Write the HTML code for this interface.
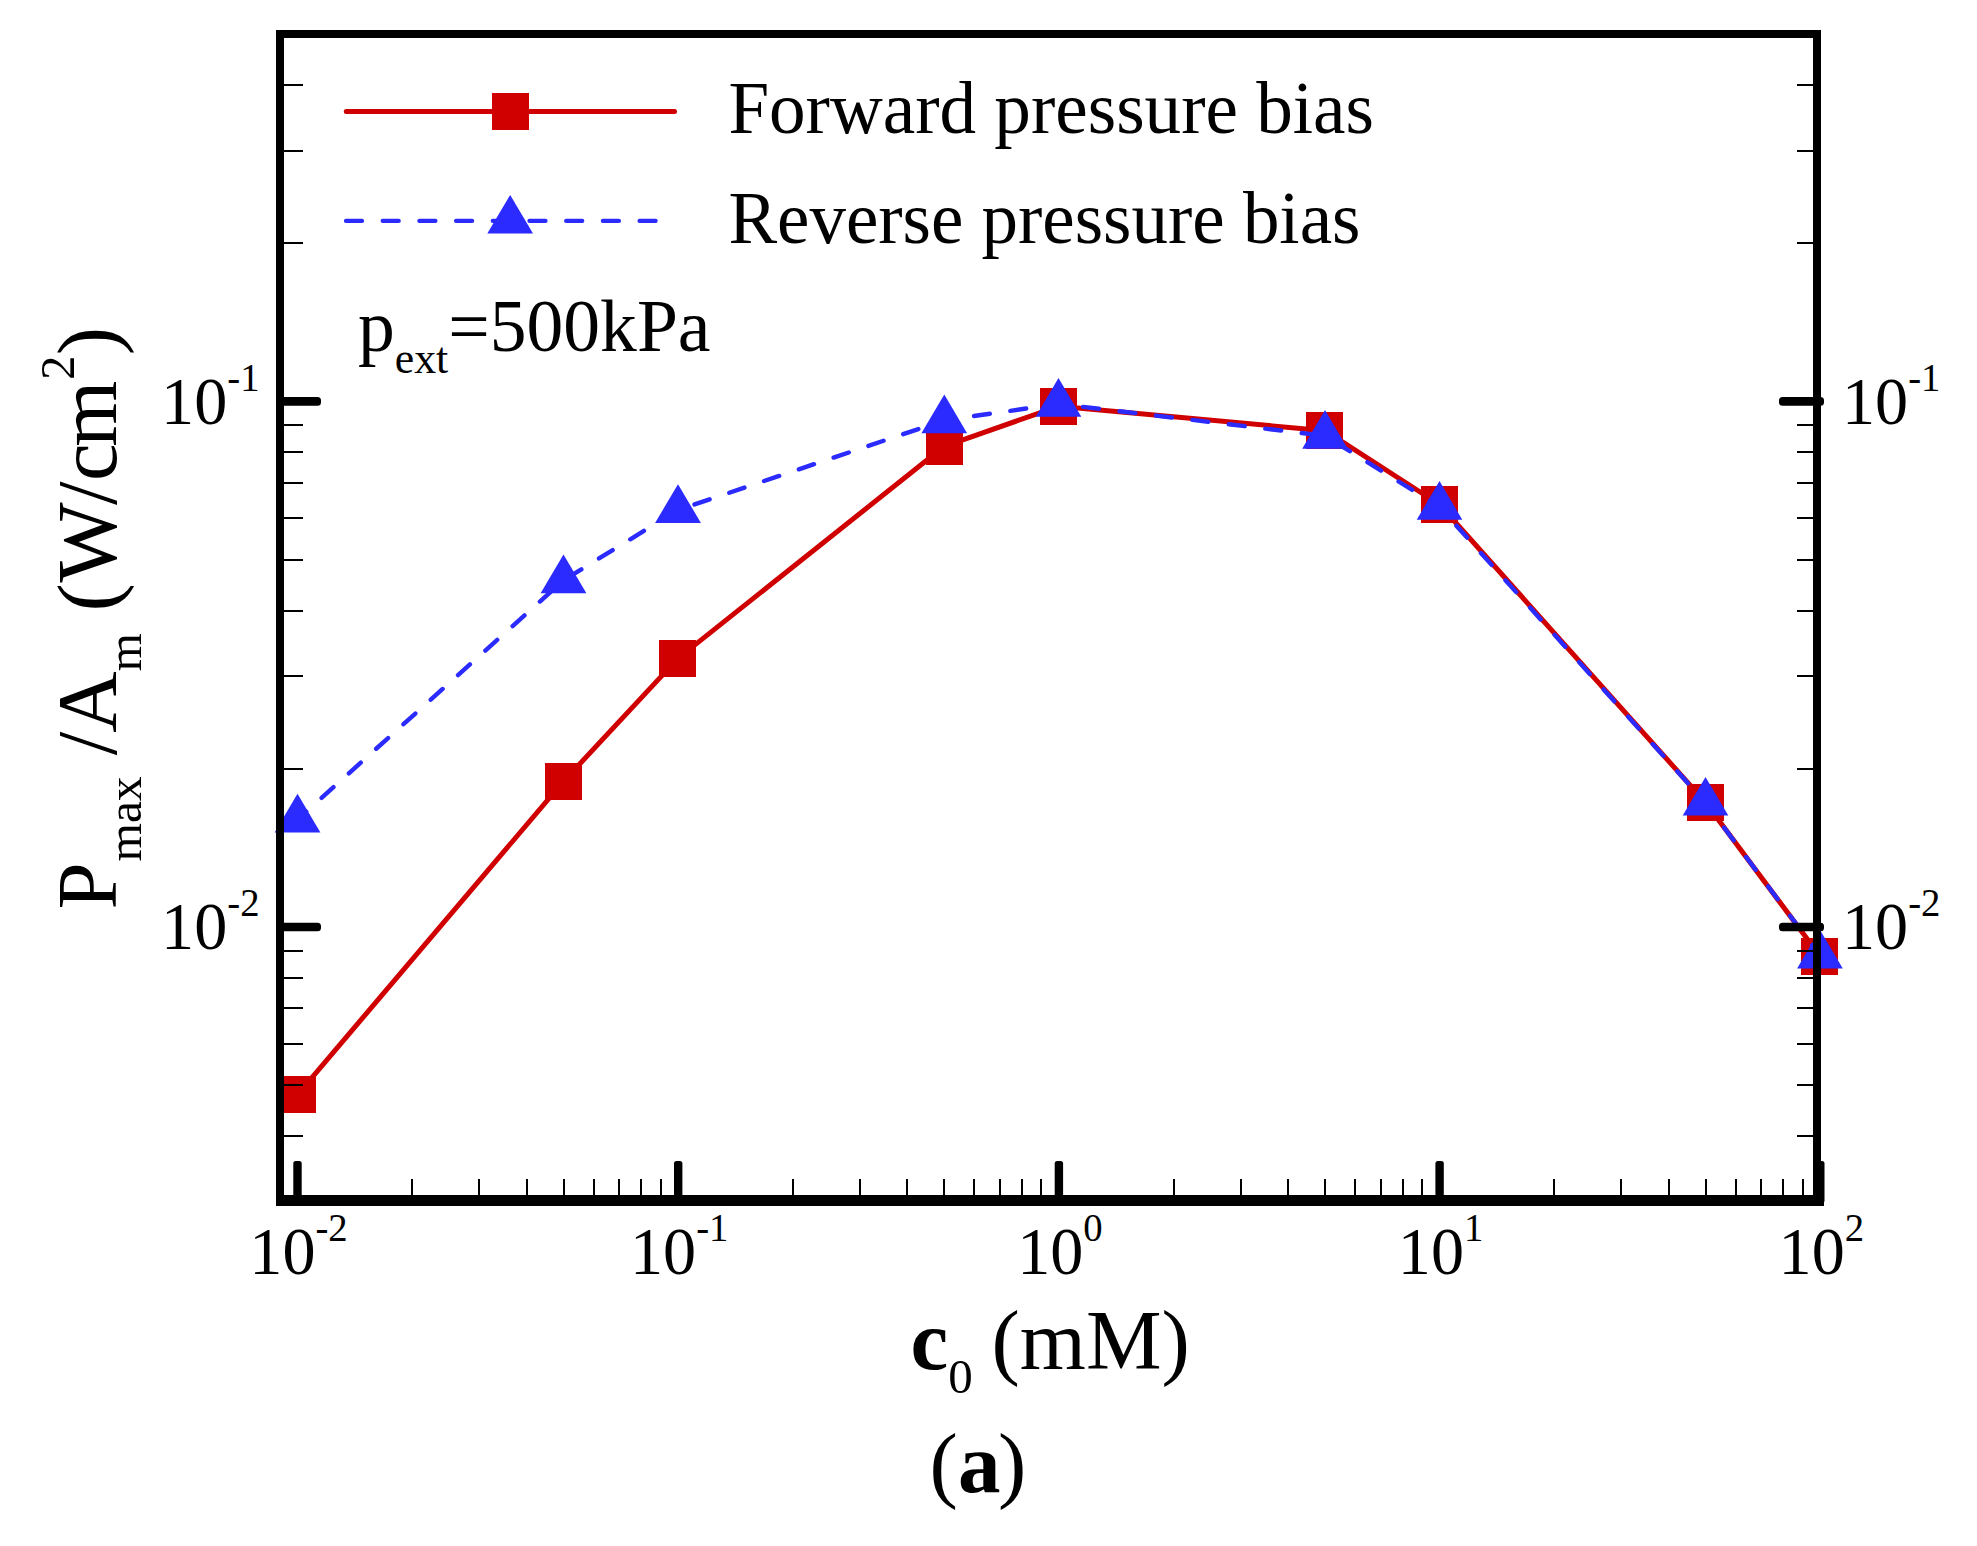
<!DOCTYPE html>
<html lang="en"><head><meta charset="utf-8"><title>Pmax/Am vs c0</title>
<style>
html,body{margin:0;padding:0;background:#fff;}
body{width:1977px;height:1546px;overflow:hidden;}
svg{display:block;}
text{font-family:"Liberation Serif","Times New Roman",Times,serif;fill:#000;}
.b{font-weight:bold;}
</style></head><body>
<svg width="1977" height="1546" viewBox="0 0 1977 1546">
<rect x="0" y="0" width="1977" height="1546" fill="#fff"/>
<g id="series-forward">
<polyline fill="none" stroke="#d00000" stroke-width="5" stroke-linejoin="round" stroke-linecap="round" points="297.5,1094.6 563.5,781.4 678.0,658.4 944.3,446.3 1058.5,406.3 1325.0,430.7 1439.5,504.5 1705.5,802.4 1819.9,956.1"/>
<rect x="279" y="1076" width="37" height="37" fill="#d00000"/>
<rect x="545" y="763" width="37" height="37" fill="#d00000"/>
<rect x="659" y="640" width="37" height="37" fill="#d00000"/>
<rect x="926" y="428" width="37" height="37" fill="#d00000"/>
<rect x="1040" y="388" width="37" height="37" fill="#d00000"/>
<rect x="1306" y="412" width="37" height="37" fill="#d00000"/>
<rect x="1421" y="486" width="37" height="37" fill="#d00000"/>
<rect x="1687" y="784" width="37" height="37" fill="#d00000"/>
<rect x="1801" y="938" width="37" height="37" fill="#d00000"/>
</g>
<g id="series-reverse">
<polyline fill="none" stroke="#2b2bff" stroke-width="4.4" stroke-linejoin="round" stroke-linecap="round" stroke-dasharray="16 20.7" stroke-dashoffset="4.3" points="297.5,819.5 563.5,580.3 678.0,510.0 944.3,420.3 1058.5,403.9 1325.0,435.8 1439.5,506.9 1705.5,802.7 1819.9,955.6"/>
<polygon points="297.5,793.7 320.4,832.4 274.6,832.4" fill="#2b2bff"/>
<polygon points="563.5,554.5 586.4,593.2 540.6,593.2" fill="#2b2bff"/>
<polygon points="678.0,484.2 700.9,522.9 655.1,522.9" fill="#2b2bff"/>
<polygon points="944.3,394.5 967.1,433.2 921.4,433.2" fill="#2b2bff"/>
<polygon points="1058.5,378.1 1081.3,416.8 1035.7,416.8" fill="#2b2bff"/>
<polygon points="1325.0,410.0 1347.8,448.7 1302.2,448.7" fill="#2b2bff"/>
<polygon points="1439.5,481.1 1462.3,519.8 1416.7,519.8" fill="#2b2bff"/>
<polygon points="1705.5,776.9 1728.3,815.6 1682.7,815.6" fill="#2b2bff"/>
<polygon points="1819.9,929.8 1842.8,968.5 1797.1,968.5" fill="#2b2bff"/>
</g>
<g id="legend">
<line x1="346.3" y1="111.5" x2="674.5" y2="111.5" stroke="#d00000" stroke-width="5" stroke-linecap="round"/>
<rect x="492" y="93" width="37" height="37" fill="#d00000"/>
<line x1="346" y1="220.9" x2="675" y2="220.9" stroke="#2b2bff" stroke-width="4.3" stroke-linecap="round" stroke-dasharray="16 20.7"/>
<polygon points="510.2,194.9 533,233.5 487.3,233.5" fill="#2b2bff"/>
<text transform="translate(728.4,133.2) scale(0.988,1)" font-size="74">Forward pressure bias</text>
<text transform="translate(728.4,243) scale(0.986,1)" font-size="74">Reverse pressure bias</text>
<text transform="translate(357.9,351.2) scale(0.995,1)" font-size="74">p<tspan font-size="44" dy="21.3">ext</tspan><tspan dy="-21.3">=500kPa</tspan></text>
</g>
<g id="axes" fill="#000" stroke="none" shape-rendering="crispEdges">
<rect x="276" y="30" width="8" height="1176"/>
<rect x="1813" y="30" width="8" height="1176"/>
<rect x="276" y="30" width="1545" height="8"/>
<rect x="276" y="1195" width="1548" height="11" />
<rect x="280" y="84" width="23" height="2"/>
<rect x="1797" y="84" width="20" height="2"/>
<rect x="280" y="150" width="23" height="2"/>
<rect x="1797" y="150" width="20" height="2"/>
<rect x="280" y="242" width="23" height="2"/>
<rect x="1797" y="242" width="20" height="2"/>
<rect x="280" y="424" width="23" height="2"/>
<rect x="1797" y="424" width="20" height="2"/>
<rect x="280" y="451" width="23" height="2"/>
<rect x="1797" y="451" width="20" height="2"/>
<rect x="280" y="482" width="23" height="2"/>
<rect x="1797" y="482" width="20" height="2"/>
<rect x="280" y="517" width="23" height="2"/>
<rect x="1797" y="517" width="20" height="2"/>
<rect x="280" y="559" width="23" height="2"/>
<rect x="1797" y="559" width="20" height="2"/>
<rect x="280" y="610" width="23" height="2"/>
<rect x="1797" y="610" width="20" height="2"/>
<rect x="280" y="675" width="23" height="2"/>
<rect x="1797" y="675" width="20" height="2"/>
<rect x="280" y="768" width="23" height="2"/>
<rect x="1797" y="768" width="20" height="2"/>
<rect x="280" y="950" width="23" height="2"/>
<rect x="1797" y="950" width="20" height="2"/>
<rect x="280" y="977" width="23" height="2"/>
<rect x="1797" y="977" width="20" height="2"/>
<rect x="280" y="1007" width="23" height="2"/>
<rect x="1797" y="1007" width="20" height="2"/>
<rect x="280" y="1043" width="23" height="2"/>
<rect x="1797" y="1043" width="20" height="2"/>
<rect x="280" y="1084" width="23" height="2"/>
<rect x="1797" y="1084" width="20" height="2"/>
<rect x="280" y="1135" width="23" height="2"/>
<rect x="1797" y="1135" width="20" height="2"/>
<rect x="280" y="397.1" width="41" height="8.6" rx="3.5" shape-rendering="auto"/>
<rect x="1779" y="397.1" width="45" height="8.6" rx="3.5" shape-rendering="auto"/>
<rect x="280" y="922.7" width="41" height="8.6" rx="3.5" shape-rendering="auto"/>
<rect x="1779" y="922.7" width="45" height="8.6" rx="3.5" shape-rendering="auto"/>
<rect x="411" y="1179" width="2" height="20"/>
<rect x="478" y="1179" width="2" height="20"/>
<rect x="526" y="1179" width="2" height="20"/>
<rect x="563" y="1179" width="2" height="20"/>
<rect x="593" y="1179" width="2" height="20"/>
<rect x="618" y="1179" width="2" height="20"/>
<rect x="640" y="1179" width="2" height="20"/>
<rect x="660" y="1179" width="2" height="20"/>
<rect x="792" y="1179" width="2" height="20"/>
<rect x="859" y="1179" width="2" height="20"/>
<rect x="906" y="1179" width="2" height="20"/>
<rect x="943" y="1179" width="2" height="20"/>
<rect x="973" y="1179" width="2" height="20"/>
<rect x="999" y="1179" width="2" height="20"/>
<rect x="1021" y="1179" width="2" height="20"/>
<rect x="1040" y="1179" width="2" height="20"/>
<rect x="1173" y="1179" width="2" height="20"/>
<rect x="1240" y="1179" width="2" height="20"/>
<rect x="1287" y="1179" width="2" height="20"/>
<rect x="1324" y="1179" width="2" height="20"/>
<rect x="1354" y="1179" width="2" height="20"/>
<rect x="1380" y="1179" width="2" height="20"/>
<rect x="1402" y="1179" width="2" height="20"/>
<rect x="1421" y="1179" width="2" height="20"/>
<rect x="1553" y="1179" width="2" height="20"/>
<rect x="1620" y="1179" width="2" height="20"/>
<rect x="1668" y="1179" width="2" height="20"/>
<rect x="1705" y="1179" width="2" height="20"/>
<rect x="1735" y="1179" width="2" height="20"/>
<rect x="1760" y="1179" width="2" height="20"/>
<rect x="1782" y="1179" width="2" height="20"/>
<rect x="1802" y="1179" width="2" height="20"/>
<rect x="293.3" y="1161" width="8.4" height="42" rx="2.5" shape-rendering="auto"/>
<rect x="674.0" y="1161" width="8.4" height="42" rx="2.5" shape-rendering="auto"/>
<rect x="1054.7" y="1161" width="8.4" height="42" rx="2.5" shape-rendering="auto"/>
<rect x="1435.4" y="1161" width="8.4" height="42" rx="2.5" shape-rendering="auto"/>
<rect x="1816.1" y="1161" width="8.4" height="42" rx="2.5" shape-rendering="auto"/>
</g>
<g id="ticklabels" font-size="67.5">
<text transform="translate(298.5,1274.1) scale(0.98,1)" text-anchor="middle">10<tspan font-size="39.5" dy="-33">-2</tspan></text>
<text transform="translate(679.2,1274.1) scale(0.98,1)" text-anchor="middle">10<tspan font-size="39.5" dy="-33">-1</tspan></text>
<text transform="translate(1059.9,1274.1) scale(0.98,1)" text-anchor="middle">10<tspan font-size="39.5" dy="-33">0</tspan></text>
<text transform="translate(1440.6,1274.1) scale(0.98,1)" text-anchor="middle">10<tspan font-size="39.5" dy="-33">1</tspan></text>
<text transform="translate(1821.3,1274.1) scale(0.98,1)" text-anchor="middle">10<tspan font-size="39.5" dy="-33">2</tspan></text>
<text transform="translate(259.5,424.0) scale(0.98,1)" text-anchor="end">10<tspan font-size="39.5" dy="-33">-1</tspan></text>
<text transform="translate(259.5,949.4) scale(0.98,1)" text-anchor="end">10<tspan font-size="39.5" dy="-33">-2</tspan></text>
<text transform="translate(1842.0,424.0) scale(0.98,1)" text-anchor="start">10<tspan font-size="39.5" dy="-33">-1</tspan></text>
<text transform="translate(1842.0,949.4) scale(0.98,1)" text-anchor="start">10<tspan font-size="39.5" dy="-33">-2</tspan></text>
</g>
<g id="xtitle" font-size="85">
<text x="910.6" y="1368.6"><tspan class="b">c</tspan><tspan font-size="49" dy="24">0</tspan></text>
<text x="991.5" y="1368.6">(mM)</text>
<text x="929.6" y="1491.6">(<tspan class="b">a</tspan><tspan dx="-2.5">)</tspan></text>
</g>
<g id="ytitle" font-size="85" transform="translate(116.4,909.3) rotate(-90)">
<text x="-0.3" y="0">P</text>
<text x="47.7" y="24.6" font-size="49.5">max</text>
<text x="154 176.5" y="0">/A</text>
<text x="238.1" y="24.6" font-size="49">m</text>
<text x="297.9 326.7 404.2 428.2 462.6" y="0">(W/cm</text>
<text x="529.4" y="-42.4" font-size="49">2</text>
<text x="554" y="0">)</text>
</g>
</svg>
</body></html>
